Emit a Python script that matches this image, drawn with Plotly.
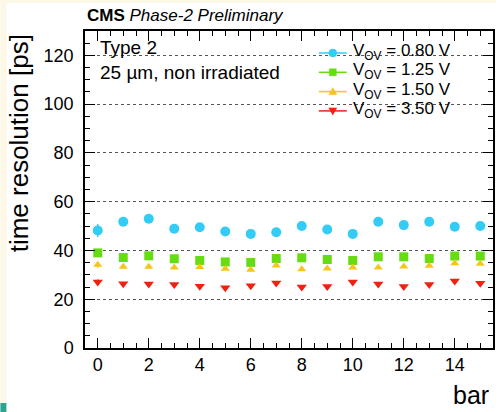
import plotly.graph_objects as go

bars = list(range(16))
v080 = [48.2, 51.8, 53.0, 48.9, 49.5, 47.8, 46.8, 47.5, 50.0, 48.6, 46.8, 51.8, 50.4, 51.8, 49.7, 50.0]
v125 = [39.0, 37.1, 37.8, 36.6, 35.9, 35.3, 35.1, 36.7, 37.0, 36.3, 35.9, 37.4, 37.4, 36.7, 37.7, 37.7]
v150 = [34.1, 33.3, 33.3, 33.0, 33.2, 32.5, 32.1, 33.8, 32.3, 32.6, 33.0, 33.0, 33.4, 33.7, 34.8, 34.5]
v350 = [27.1, 26.3, 26.2, 26.0, 25.3, 24.7, 25.5, 26.7, 25.0, 25.2, 27.1, 26.2, 25.2, 26.0, 27.5, 26.6]
e080 = [2.7] + [0.6] * 15
e125 = [1.6] + [0.4] * 15
e150 = [1.2] + [0.3] * 15
e350 = [1.0] + [0.3] * 15

labels = ["V<sub>OV</sub> = 0.80 V", "V<sub>OV</sub> = 1.25 V",
          "V<sub>OV</sub> = 1.50 V", "V<sub>OV</sub> = 3.50 V"]
series = [v080, v125, v150, v350]
errors = [e080, e125, e150, e350]
colors = ["#33ccf5", "#66dd11", "#f7c51a", "#ee2211"]
symbols = ["circle", "square", "triangle-up", "triangle-down"]
sizes = [10, 9, 8, 9]

font = "Liberation Sans, Arial, sans-serif"
PW, PH = 410, 317  # plot area size in px

fig = go.Figure()
for lab, s, e, c, sym, sz in zip(labels, series, errors, colors, symbols, sizes):
    fig.add_trace(go.Scatter(x=bars, y=s, mode="markers", name=lab, showlegend=False,
                             marker=dict(color=c, symbol=sym, size=sz),
                             error_y=dict(type="data", array=e, color=c, thickness=1.5, width=0)))

axis_common = dict(showline=True, linecolor="black", linewidth=1.5, mirror="ticks",
                   ticks="inside", tickcolor="black", tickfont=dict(family=font, size=18, color="black"),
                   zeroline=False)
fig.update_xaxes(range=[-0.5, 15.5], dtick=2, tick0=0, ticklen=10, showgrid=False,
                 minor=dict(dtick=0.5, ticks="inside", ticklen=5, tickcolor="black", showgrid=False),
                 **axis_common)
fig.update_yaxes(range=[0, 130], dtick=20, tick0=0, ticklen=10, showgrid=True,
                 gridcolor="#555555", griddash="dot", gridwidth=1, ticklabelstandoff=6,
                 minor=dict(dtick=5, ticks="inside", ticklen=5, tickcolor="black", showgrid=False),
                 **axis_common)

cream = "#fdf7e6"
shapes = [
    dict(type="rect", xref="paper", yref="paper", x0=-85/PW, x1=-79/PW, y0=-64/PH, y1=1 + 31/PH,
         fillcolor=cream, line=dict(width=0), layer="below"),
    dict(type="rect", xref="paper", yref="paper", x0=-85/PW, x1=1 + 3/PW, y0=1 + 28/PH, y1=1 + 31/PH,
         fillcolor=cream, line=dict(width=0), layer="below"),
    dict(type="rect", xref="paper", yref="paper", x0=-85/PW, x1=-79/PW, y0=-64/PH, y1=-55/PH,
         fillcolor="#2aa592", line=dict(width=0), layer="above"),
]
annotations = [
    dict(text="<b>CMS</b> <i>Phase-2 Preliminary</i>", xref="paper", yref="paper", x=0.0, y=1 + 16/PH,
         xanchor="left", yanchor="middle", showarrow=False, font=dict(family=font, size=17)),
    dict(text="Type 2", xref="paper", yref="paper", x=13/PW, y=1 - 16/PH, xanchor="left", yanchor="middle",
         showarrow=False, font=dict(family=font, size=19)),
    dict(text="25 µm, non irradiated", xref="paper", yref="paper", x=13/PW, y=1 - 41/PH, xanchor="left",
         yanchor="middle", showarrow=False, font=dict(family=font, size=19)),
    dict(text="time resolution [ps]", xref="paper", yref="paper", x=-66/PW, y=(348 - 143)/PH,
         xanchor="center", yanchor="middle", textangle=-90, showarrow=False,
         font=dict(family=font, size=26)),
    dict(text="bar", xref="paper", yref="paper", x=1 - 2/PW, y=-47/PH, xanchor="right", yanchor="middle",
         showarrow=False, font=dict(family=font, size=25)),
]

# manual legend (ROOT-style compact spacing)
lx = (334 - 85) / PW  # marker centre
for i, (lab, c, sym) in enumerate(zip(labels, colors, symbols)):
    ly = (348 - (53 + 19.3 * i)) / PH
    shapes.append(dict(type="line", xref="paper", yref="paper", xsizemode="pixel", ysizemode="pixel",
                       xanchor=lx, yanchor=ly, x0=-14, x1=14, y0=0, y1=0,
                       line=dict(color=c, width=1.5)))
    mk = dict(xref="paper", yref="paper", xsizemode="pixel", ysizemode="pixel",
              xanchor=lx, yanchor=ly, fillcolor=c, line=dict(color=c, width=0.5))
    if sym == "circle":
        shapes.append(dict(type="circle", x0=-4, x1=4, y0=-4, y1=4, **mk))
    elif sym == "square":
        shapes.append(dict(type="rect", x0=-3.5, x1=3.5, y0=-3.5, y1=3.5, **mk))
    elif sym == "triangle-up":
        shapes.append(dict(type="path", path="M -4,-3 L 4,-3 L 0,4 Z", **mk))
    else:
        shapes.append(dict(type="path", path="M -4,3 L 4,3 L 0,-4 Z", **mk))
    annotations.append(dict(text=lab, xref="paper", yref="paper", x=(352 - 85) / PW, y=ly + 1/PH,
                            xanchor="left", yanchor="middle", showarrow=False,
                            font=dict(family=font, size=17)))

fig.update_layout(
    width=498, height=412,
    margin=dict(l=85, r=3, t=31, b=64),
    paper_bgcolor="white", plot_bgcolor="white",
    font=dict(family=font, color="black"),
    showlegend=False,
    shapes=shapes,
    annotations=annotations,
)
fig.write_html("out.html")
